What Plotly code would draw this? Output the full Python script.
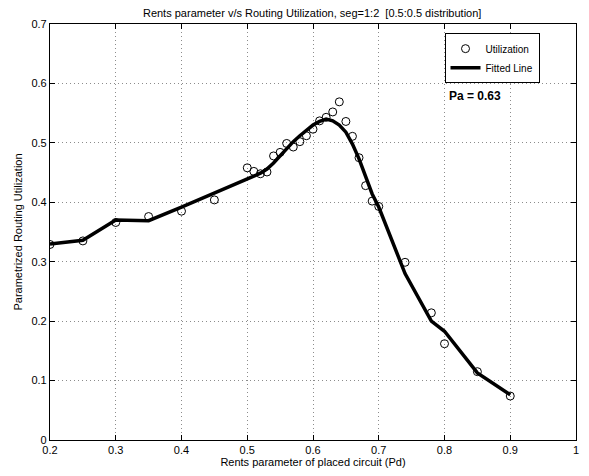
import plotly.graph_objects as go

# Observed utilization points
util_x = [0.20, 0.25, 0.30, 0.35, 0.40, 0.45, 0.50, 0.51, 0.52, 0.53, 0.54, 0.55,
          0.56, 0.57, 0.58, 0.59, 0.60, 0.61, 0.62, 0.63, 0.64, 0.65, 0.66, 0.67,
          0.68, 0.69, 0.70, 0.74, 0.78, 0.80, 0.85, 0.90]
util_y = [0.329, 0.335, 0.366, 0.376, 0.385, 0.404, 0.458, 0.452, 0.448, 0.451, 0.478, 0.484,
          0.499, 0.493, 0.502, 0.512, 0.523, 0.537, 0.543, 0.552, 0.569, 0.536, 0.511, 0.475,
          0.428, 0.402, 0.393, 0.299, 0.214, 0.162, 0.115, 0.074]

# Fitted line values (evaluated at the same Pd values)
fit_x = util_x
fit_y = [0.330, 0.336, 0.370, 0.369, 0.392, 0.415, 0.438, 0.444, 0.449, 0.456, 0.466, 0.478,
         0.491, 0.502, 0.512, 0.521, 0.530, 0.536, 0.540, 0.537, 0.530, 0.518, 0.498, 0.473,
         0.444, 0.414, 0.392, 0.280, 0.200, 0.183, 0.113, 0.076]

x_ticks = [0.2, 0.3, 0.4, 0.5, 0.6, 0.7, 0.8, 0.9, 1.0]
x_tick_text = ["0.2", "0.3", "0.4", "0.5", "0.6", "0.7", "0.8", "0.9", "1"]
y_ticks = [0, 0.1, 0.2, 0.3, 0.4, 0.5, 0.6, 0.7]
y_tick_text = ["0", "0.1", "0.2", "0.3", "0.4", "0.5", "0.6", "0.7"]

FONT = "Liberation Sans, Arial, Helvetica, sans-serif"

fig = go.Figure()
fig.add_trace(go.Scatter(
    x=util_x, y=util_y, mode="markers", name="Utilization",
    marker=dict(symbol="circle-open", size=8, color="black", line=dict(width=1, color="black")),
))
fig.add_trace(go.Scatter(
    x=fit_x, y=fit_y, mode="lines", name="Fitted Line",
    line=dict(color="black", width=3.5),
))

axis_common = dict(
    showline=True, linecolor="black", linewidth=1.2, mirror="ticks",
    ticks="inside", ticklen=5, tickcolor="black", tickwidth=1,
    showgrid=True, gridcolor="#8c8c8c", griddash="1px,3px", gridwidth=1,
    zeroline=False, tickfont=dict(family=FONT, size=11, color="black"),
)

fig.update_layout(
    width=589, height=476,
    margin=dict(l=50, r=10, t=24, b=34),
    paper_bgcolor="white", plot_bgcolor="white",
    font=dict(family=FONT, size=11, color="black"),
    title=dict(text="Rents parameter v/s Routing Utilization, seg=1:2\u00a0\u00a0[0.5:0.5 distribution]",
               x=0.53, xanchor="center", y=0.973, yanchor="middle",
               font=dict(family=FONT, size=11, color="black")),
    xaxis=dict(range=[0.2, 1.0], tickvals=x_ticks, ticktext=x_tick_text,
               title=dict(text="Rents parameter of placed circuit (Pd)", standoff=2,
                          font=dict(family=FONT, size=11)),
               **axis_common),
    yaxis=dict(range=[0, 0.7], tickvals=y_ticks, ticktext=y_tick_text,
               title=dict(text="Parametrized Routing Utilization", standoff=6,
                          font=dict(family=FONT, size=11)),
               **axis_common),
    legend=dict(x=0.75, y=0.978, xanchor="left", yanchor="top",
                bordercolor="black", borderwidth=1, bgcolor="white",
                font=dict(family=FONT, size=10), tracegroupgap=0,
                itemwidth=30),
    showlegend=True,
)

fig.add_annotation(
    x=0.754, y=0.826, xref="paper", yref="paper", xanchor="left", yanchor="middle",
    text="<b>Pa = 0.63</b>", showarrow=False,
    font=dict(family=FONT, size=12, color="black"),
)

fig.write_html("out.html", config={"displayModeBar": False},
               post_script="document.body.style.margin='0';")
